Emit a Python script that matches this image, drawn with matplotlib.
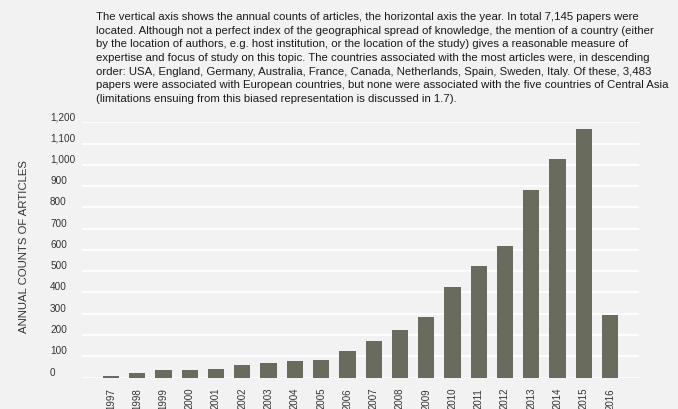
import matplotlib
matplotlib.use("Agg")
import matplotlib.pyplot as plt
import numpy as np

plt.rcParams['font.family'] = ['Liberation Sans', 'DejaVu Sans']

years = ['1997', '1998', '1999', '2000', '2001', '2002', '2003', '2004', '2005', '2006',
         '2007', '2008', '2009', '2010', '2011', '2012', '2013', '2014', '2015', '2016']
counts = [8, 22, 34, 34, 40, 57, 70, 76, 82, 123,
          170, 225, 286, 425, 524, 618, 882, 1029, 1168, 294]
yticks = [0, 100, 200, 300, 400, 500, 600, 700, 800, 900, 1000, 1100, 1200]

note = ("The vertical axis shows the annual counts of articles, the horizontal axis the year. In total 7,145 papers were\n"
        "located. Although not a perfect index of the geographical spread of knowledge, the mention of a country (either\n"
        "by the location of authors, e.g. host institution, or the location of the study) gives a reasonable measure of\n"
        "expertise and focus of study on this topic. The countries associated with the most articles were, in descending\n"
        "order: USA, England, Germany, Australia, France, Canada, Netherlands, Spain, Sweden, Italy. Of these, 3,483\n"
        "papers were associated with European countries, but none were associated with the five countries of Central Asia\n"
        "(limitations ensuing from this biased representation is discussed in 1.7).")

bg = '#f2f2f2'
fig = plt.figure(figsize=(6.78, 4.09), dpi=100, facecolor=bg)
ax = fig.add_axes([0.121, 0.077, 0.8215, 0.624], facecolor=bg)

x = np.arange(len(years))
ax.bar(x, counts, width=0.62, color='#696b5d', zorder=3)

ax.set_xlim(-1.1, len(years) - 1 + 1.1)
ax.set_ylim(0, 1200)
ax.set_yticks(yticks)
ax.set_yticklabels([f'{v:,}' for v in yticks])
ax.set_xticks(x)
ax.set_xticklabels(years, rotation=90)
ax.grid(axis='y', color='white', linewidth=1.3, zorder=0)
for s in ax.spines.values():
    s.set_visible(False)
ax.tick_params(axis='y', length=0, pad=23, labelsize=7.2, labelcolor='#333333')
ax.tick_params(axis='x', length=0, pad=7.5, labelsize=7, labelcolor='#333333')
for lab in ax.get_yticklabels():
    lab.set_horizontalalignment('left')
    lab.set_verticalalignment('bottom')

fig.text(0.036, 0.398, 'ANNUAL COUNTS OF ARTICLES', rotation=90, ha='center', va='center',
         fontsize=8.2, color='#333333')

fig.text(0.142, 0.971, note, ha='left', va='top', fontsize=8.2, color='#1a1a1a',
         linespacing=1.46)

fig.savefig('out.png', dpi=100, facecolor=bg)
